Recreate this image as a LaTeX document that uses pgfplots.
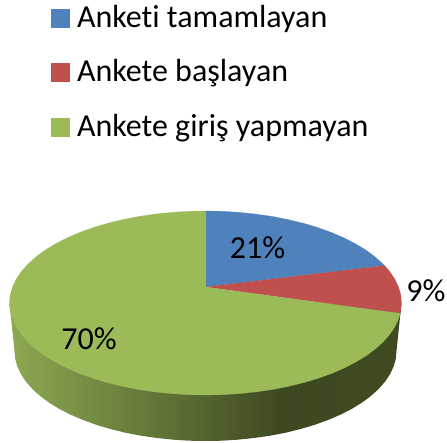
\documentclass[border=0pt]{standalone}
\usepackage{pgfplots}
\pgfplotsset{compat=1.18}
\usepackage{fontspec}
\setmainfont[Ligatures=NoCommon]{Carlito}
\definecolor{cblue}{HTML}{4F81BD}
\definecolor{cred}{HTML}{C0504D}
\definecolor{cgreen}{HTML}{9BBB59}
\definecolor{sa}{HTML}{8CA952}
\definecolor{sb}{HTML}{3D4820}
\definecolor{sc}{HTML}{404B22}
\pgfdeclarehorizontalshading{sidegrad}{100bp}{color(0bp)=(sa);color(25bp)=(sa);color(60bp)=(sb);color(75bp)=(sc);color(100bp)=(sc)}
\begin{document}
\begin{tikzpicture}
\useasboundingbox (0,0) rectangle (447pt,442pt);
\begin{axis}[
  scale only axis, width=447pt, height=442pt,
  xmin=0, xmax=447, ymin=0, ymax=442, y dir=reverse,
  hide axis, clip=false,
  legend cell align=left,
  legend style={at={(axis cs:51,5)}, anchor=north west, draw=none, fill=none,
    font=\fontsize{32}{32}\selectfont, row sep=25.5pt, inner sep=0pt, outer sep=0pt,
    nodes={inner sep=0pt, text height=22pt, text depth=7pt, anchor=base west}},
  legend image code/.code={\path[draw=none,fill=none] (0pt,0pt) rectangle (26pt,1pt);\path[#1] (0pt,0pt) rectangle (18pt,18pt);},
]
% side wall
\addplot[forget plot, draw=none, shading=sidegrad] coordinates {
(9.5,303)(14.5,351)(15.2,358.8)(17.4,366.6)(21,374.3)(26,381.8)(32.4,389)(40.1,396)(49,402.6)(59.2,408.9)(70.4,414.6)(82.7,419.9)(95.9,424.7)(110,428.9)(124.8,432.6)(140.2,435.6)(156.1,437.9)(172.3,439.6)(188.9,440.7)(205.5,441)(222.1,440.7)(238.7,439.6)(254.9,437.9)(270.8,435.6)(286.2,432.6)(301,428.9)(315.1,424.7)(328.3,419.9)(340.6,414.6)(351.8,408.9)(362,402.6)(370.9,396)(378.6,389)(385,381.8)(390,374.3)(393.6,366.6)(395.8,358.8)(396.5,351)(401.5,303)
} -- cycle;
% Anketi tamamlayan 21%
\addplot[draw=cblue, line width=0.2pt, fill=cblue] coordinates {
(205.5,287)(205.5,211)(222.6,211.3)(239.5,212.4)(256.2,214.1)(272.5,216.5)(288.3,219.6)(303.5,223.3)(317.9,227.6)(331.5,232.5)(344.1,237.9)(355.6,243.9)(366.1,250.2)(375.2,257)(383.1,264.1)(384.5,265.6)
} -- cycle;
\addlegendentry{Anketi tamamlayan}
% Ankete baslayan 9%
\addplot[draw=cred, line width=0.2pt, fill=cred] coordinates {
(205.5,287)(384.5,265.6)(389.7,271.5)(394.8,279.2)(398.5,287)(400.8,295)(401.5,303)(400.2,313.4)
} -- cycle;
\addlegendentry{Ankete başlayan}
% Ankete giris yapmayan 70%
\addplot[draw=cgreen, line width=0.2pt, fill=cgreen] coordinates {
(205.5,287)(400.2,313.4)(398.5,319)(394.8,326.8)(389.7,334.5)(383.1,341.9)(375.2,349)(366.1,355.8)(355.6,362.1)(344.1,368.1)(331.5,373.5)(317.9,378.4)(303.5,382.7)(288.3,386.4)(272.5,389.5)(256.2,391.9)(239.5,393.6)(222.6,394.7)(205.5,395)(188.4,394.7)(171.5,393.6)(154.8,391.9)(138.5,389.5)(122.7,386.4)(107.5,382.7)(93.1,378.4)(79.5,373.5)(66.9,368.1)(55.4,362.1)(44.9,355.8)(35.8,349)(27.9,341.9)(21.3,334.5)(16.2,326.8)(12.5,319)(10.2,311)(9.5,303)(10.2,295)(12.5,287)(16.2,279.2)(21.3,271.5)(27.9,264.1)(35.8,257)(44.9,250.2)(55.4,243.9)(66.9,237.9)(79.5,232.5)(93.1,227.6)(107.5,223.3)(122.7,219.6)(138.5,216.5)(154.8,214.1)(171.5,212.4)(188.4,211.3)(205.5,211)
} -- cycle;
\addlegendentry{Ankete giriş yapmayan}
\node[font=\fontsize{32}{32}\selectfont] at (axis cs:257.5,248) {21\%};
\node[font=\fontsize{32}{32}\selectfont] at (axis cs:426,291) {9\%};
\node[font=\fontsize{32}{32}\selectfont] at (axis cs:89,339) {70\%};
\end{axis}
\end{tikzpicture}
\end{document}
